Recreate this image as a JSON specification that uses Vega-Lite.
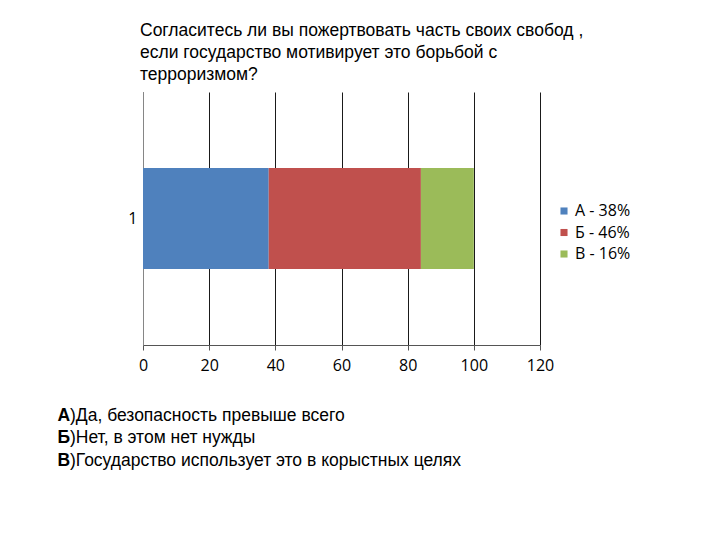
{
  "$schema": "https://vega.github.io/schema/vega-lite/v6.json",
  "width": 397,
  "height": 253,
  "autosize": "none",
  "padding": {"left": 143, "top": 92, "right": 180, "bottom": 195},
  "background": "white",
  "config": {"view": {"stroke": null}},
  "title": {
    "text": ["Согласитесь ли вы пожертвовать  часть своих свобод ,", "если государство мотивирует это борьбой с", "терроризмом?"],
    "anchor": "start",
    "frame": "group",
    "font": "Liberation Sans",
    "fontSize": 17.5,
    "fontWeight": "normal",
    "color": "black",
    "lineHeight": 22,
    "offset": 9,
    "dx": -3
  },
  "data": {
    "values": [
      {"cat": "1", "answer": "А - 38%", "value": 38, "idx": 1},
      {"cat": "1", "answer": "Б - 46%", "value": 46, "idx": 2},
      {"cat": "1", "answer": "В - 16%", "value": 16, "idx": 3}
    ]
  },
  "layer": [
    {
      "mark": {"type": "bar"},
      "encoding": {
        "y": {
          "field": "cat", "type": "nominal",
          "scale": {"paddingInner": 0, "paddingOuter": 0.75},
          "axis": {"title": null, "ticks": false, "domainColor": "#868686", "labelFont": "Open Sans", "labelFontSize": 16, "labelColor": "black", "labelPadding": 6, "labelAngle": 0}
        },
        "x": {
          "field": "value", "type": "quantitative", "stack": "zero",
          "scale": {"domain": [0, 120], "nice": false},
          "axis": {
            "values": [0, 20, 40, 60, 80, 100, 120],
            "grid": true, "gridColor": "#1a1a1a", "gridOpacity": 1,
            "domainColor": "#555555", "tickColor": "#555555", "tickSize": 5,
            "labelFont": "Open Sans", "labelFontSize": 16, "labelColor": "black", "labelPadding": 7, "labelFlush": false,
            "title": [")Да, безопасность превыше всего", ")Нет, в этом нет нужды", ")Государство использует это в корыстных целях"],
            "titleFont": "Liberation Sans", "titleFontSize": 17.5, "titleFontWeight": "normal", "titleColor": "black",
            "titleLineHeight": 22.5, "titleAlign": "left", "titleBaseline": "top", "titleAnchor": "start",
            "titleX": -73.5, "titleY": 61, "titleAngle": 0
          }
        },
        "color": {
          "field": "answer", "type": "nominal",
          "scale": {"domain": ["А - 38%", "Б - 46%", "В - 16%"], "range": ["#4F81BD", "#C0504D", "#9BBB59"]},
          "legend": {
            "title": null, "orient": "none", "legendX": 413, "legendY": 111,
            "symbolType": "square", "symbolSize": 50, "symbolStrokeWidth": 0,
            "labelFont": "Open Sans", "labelFontSize": 16, "labelColor": "black",
            "rowPadding": 5.5, "labelOffset": 3
          }
        },
        "order": {"field": "idx", "type": "quantitative"}
      }
    },
    {
      "mark": {"type": "point", "opacity": 0},
      "encoding": {
        "x": {
          "field": "value", "type": "quantitative",
          "scale": {"domain": [0, 120], "nice": false},
          "axis": {
            "orient": "bottom", "labels": false, "ticks": false, "domain": false, "grid": false,
            "title": ["А", "Б", "В"],
            "titleFont": "Liberation Sans", "titleFontSize": 17.5, "titleFontWeight": "bold", "titleColor": "black",
            "titleLineHeight": 22.5, "titleAlign": "left", "titleBaseline": "top", "titleAnchor": "start",
            "titleX": -86, "titleY": 61, "titleAngle": 0
          }
        }
      }
    }
  ],
  "resolve": {"axis": {"x": "independent"}}
}
